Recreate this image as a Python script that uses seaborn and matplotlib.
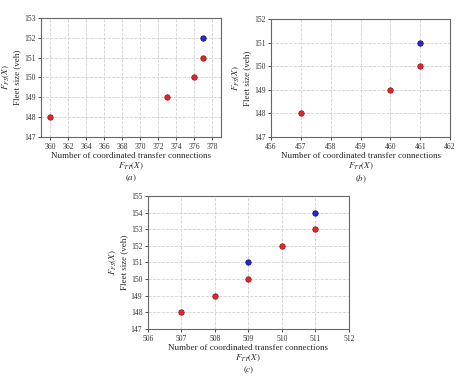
import seaborn as sns
import matplotlib.pyplot as plt
import pandas as pd

# panel (a)
a_x = [360, 373, 376, 377, 377]
a_y = [148, 149, 150, 151, 152]
a_kind = ['red', 'red', 'red', 'red', 'blue']

# panel (b)
b_x = [457, 460, 461, 461]
b_y = [148, 149, 150, 151]
b_kind = ['red', 'red', 'red', 'blue']

# panel (c)
c_x = [507, 508, 509, 510, 511, 509, 511]
c_y = [148, 149, 150, 152, 153, 151, 154]
c_kind = ['red', 'red', 'red', 'red', 'red', 'blue', 'blue']

sns.set_style('white')
plt.rcParams['font.family'] = ['Liberation Serif', 'DejaVu Serif']
plt.rcParams['mathtext.fontset'] = 'stix'

fig = plt.figure(figsize=(4.74, 3.78), dpi=100)

palette = {'red': '#e3262d', 'blue': '#2828cc'}
edges = {'red': '#a01820', 'blue': '#141478'}

panels = [
    (a_x, a_y, a_kind, [0.0865, 0.6376, 0.380, 0.315], (359, 379), range(360, 379, 2), (147, 153), '(a)'),
    (b_x, b_y, b_kind, [0.5717, 0.6376, 0.378, 0.312], (456, 462), range(456, 463), (147, 152), '(b)'),
    (c_x, c_y, c_kind, [0.312, 0.1296, 0.424, 0.352], (506, 512), range(506, 513), (147, 155), '(c)'),
]

for xs, ys, kinds, rect, xlim, xticks, ylim, tag in panels:
    ax = fig.add_axes(rect)
    df = pd.DataFrame({'x': xs, 'y': ys, 'kind': kinds})
    for k in ['red', 'blue']:
        sub = df[df['kind'] == k]
        sns.scatterplot(data=sub, x='x', y='y', color=palette[k], edgecolor=edges[k],
                        linewidth=0.6, s=15, ax=ax, zorder=3, legend=False)
    ax.set_xlim(*xlim)
    ax.set_ylim(*ylim)
    ax.set_xticks(list(xticks))
    ax.set_yticks(range(ylim[0], ylim[1] + 1))
    ax.grid(True, linestyle='--', color='#d0d0d0', linewidth=0.6)
    ax.set_axisbelow(True)
    for sp in ax.spines.values():
        sp.set_color('#666666')
        sp.set_linewidth(0.8)
    ax.tick_params(labelsize=5.5, length=2, width=0.6, pad=2, colors='#333333', left=True, bottom=True)
    ax.set_xlabel('Number of coordinated transfer connections\n$F_{TT}(X)$\n$' + tag + '$',
                  fontsize=6.5, labelpad=1, linespacing=1.1)
    ax.set_ylabel('$F_{FS}(X)$\nFleet size (veh)', fontsize=6.5, labelpad=2, linespacing=1.2)

fig.savefig('out.png', dpi=100)
